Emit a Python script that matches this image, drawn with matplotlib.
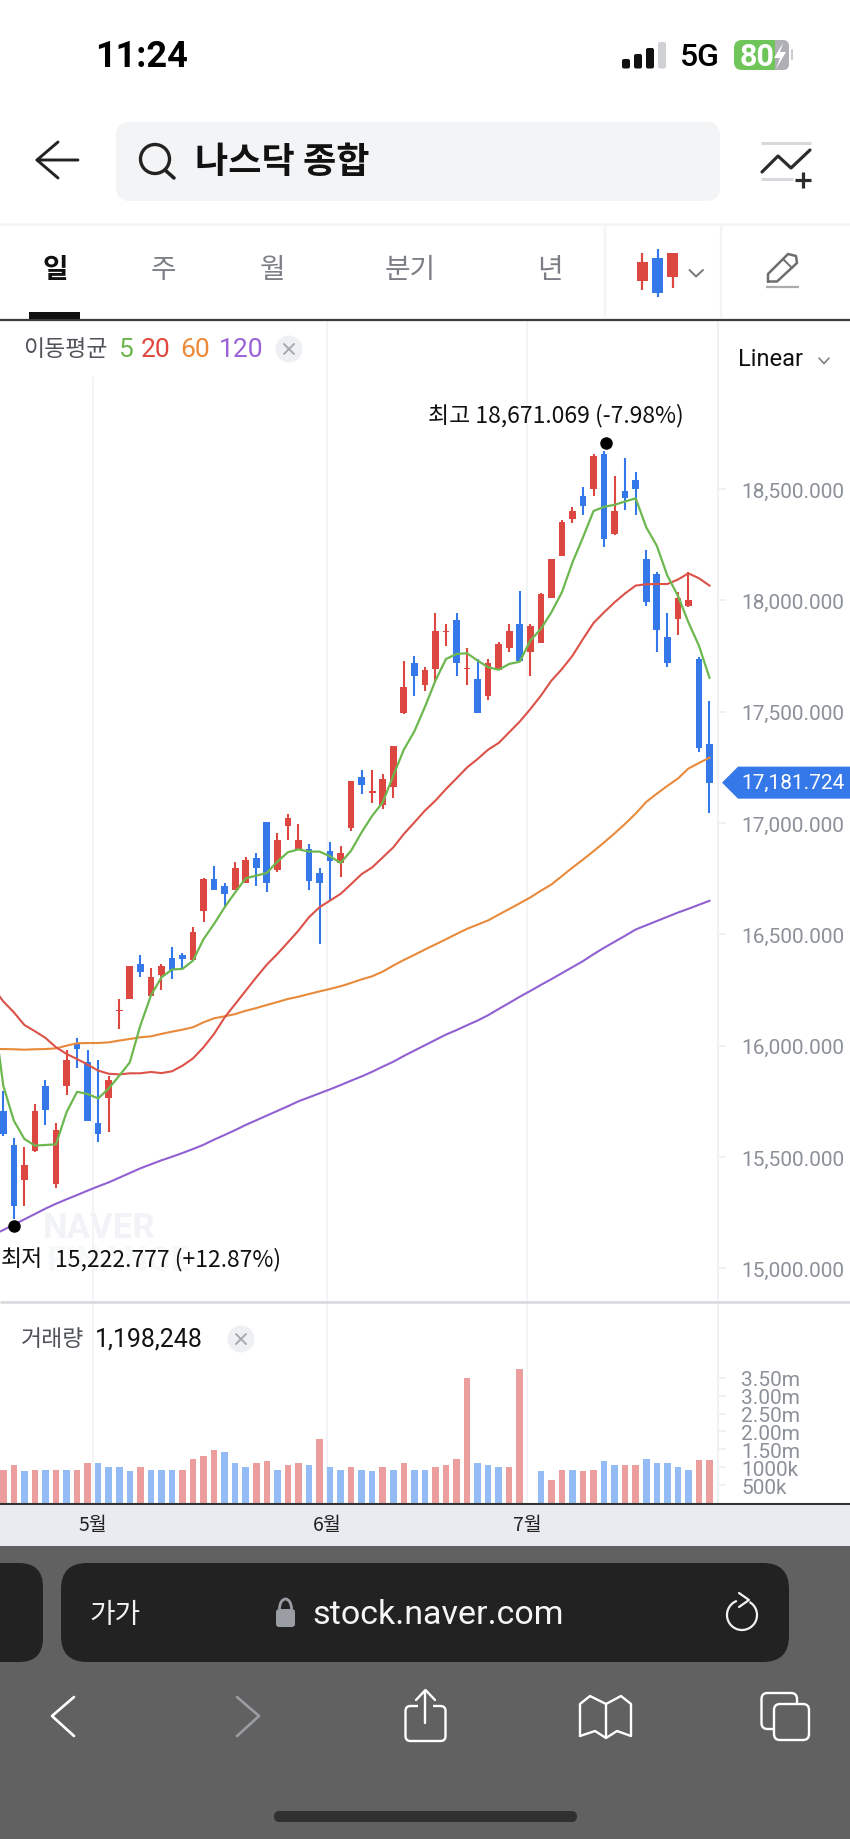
import matplotlib
matplotlib.use("Agg")
import matplotlib.pyplot as plt
from matplotlib.patches import FancyBboxPatch, Polygon, Circle, Rectangle, Arc
from matplotlib.transforms import ScaledTranslation

KR = ['Noto Sans CJK KR', 'DejaVu Sans']
LAT = ['Roboto', 'DejaVu Sans']
plt.rcParams['font.family'] = KR

# ---------- data ----------
opens = [15708,15554,15398,15525,15817,15379,15820,16011,15925,15651,15764,16154,16210,16367,16222,16318,16394,16407,16387,16604,
         16749,16719,16701,16731,16845,17003,16789,16985,16881,16884,16777,16875,16821,16976,17209,17134,17083,17161,17493,17719,
         17622,17691,17857,17914,17691,17649,17572,17689,17787,17893,17770,17809,18013,18200,18366,18471,18501,18658,18297,18490,
         18540,18186,18120,17834,17915,17975,17737,17355]
highs = [15798,15584,15543,15738,15846,15651,15982,16033,15982,15934,15865,16210,16357,16407,16348,16367,16445,16415,16532,16755,
         16806,16729,16827,16846,16866,17003,16954,17042,16994,16906,16797,16914,16896,17189,17237,17238,17219,17346,17728,17749,
         17700,17944,17894,17942,17785,17737,17737,17815,17893,18041,17893,18032,18186,18363,18421,18511,18657,18671,18558,18639,
         18579,18225,18130,17942,18040,18130,17746,17550]
lows = [15593,15223,15281,15522,15644,15359,15780,15898,15663,15566,15614,16075,16210,16310,16222,16250,16300,16348,16385,16554,
        16701,16626,16699,16729,16719,16692,16779,16926,16879,16701,16455,16656,16759,16966,17131,17092,17062,17111,17491,17572,
        17592,17640,17797,17662,17622,17495,17553,17687,17767,17725,17662,17807,18011,18198,18347,18386,18471,18239,18295,18405,
        18386,17974,17767,17700,17846,17973,17318,17044]
closes = [15603,15281,15464,15708,15713,15621,15936,15985,15663,15605,15847,16160,16357,16330,16309,16357,16342,16390,16512,16749,
          16701,16682,16797,16836,16800,16731,16924,17023,16924,16741,16731,16828,16866,17189,17171,17141,17198,17346,17610,17661,
          17688,17864,17863,17719,17697,17495,17719,17806,17864,17727,17884,18031,18186,18354,18402,18426,18648,18278,18402,18460,
          18502,17993,17866,17719,18011,18002,17336,17181.724]

# moving averages start one session before the first visible candle
ma5 = [16180,15820,15663,15581,15551,15554,15557,15701,15793,15783,15763,15808,15865,15925,16090,16225,16307,16342,16345,16382,
       16479,16547,16622,16689,16752,16764,16776,16827,16869,16882,16872,16872,16851,16821,16876,16959,17033,17093,17213,17330,
       17412,17522,17640,17737,17760,17763,17730,17700,17689,17715,17725,17820,17872,17947,18037,18171,18284,18402,18421,18430,
       18445,18459,18329,18246,18112,18022,17902,17797,17653]
ma20 = [16262,16199,16150,16093,16065,16035,15993,15963,15940,15915,15888,15874,15871,15876,15876,15882,15877,15885,15910,15943,
        15993,16053,16127,16187,16247,16307,16364,16412,16464,16517,16577,16622,16652,16682,16726,16771,16801,16846,16891,16951,
        17003,17056,17101,17153,17201,17250,17288,17330,17360,17408,17456,17512,17572,17640,17692,17752,17827,17899,17947,17992,
        18032,18067,18073,18074,18074,18094,18122,18100,18067]
ma60 = [15985,15985,15984,15982,15984,15985,15988,16000,16011,16012,16012,16015,16023,16030,16038,16042,16053,16063,16072,16083,
        16105,16123,16132,16142,16157,16169,16183,16196,16210,16220,16232,16244,16255,16267,16282,16298,16312,16333,16360,16385,
        16408,16432,16455,16478,16502,16525,16544,16563,16589,16614,16640,16666,16696,16724,16762,16800,16836,16874,16913,16954,
        16997,17043,17095,17132,17167,17200,17245,17270,17294]
ma120 = [15150,15172,15196,15220,15244,15268,15290,15310,15329,15349,15368,15386,15407,15428,15449,15467,15485,15501,15518,15536,
         15555,15578,15599,15621,15644,15665,15686,15707,15728,15750,15768,15786,15804,15823,15843,15862,15883,15906,15928,15954,
         15978,16002,16026,16050,16070,16092,16113,16137,16165,16192,16220,16246,16273,16299,16326,16353,16380,16411,16440,16467,
         16494,16522,16541,16560,16579,16598,16615,16633,16651]

volumes = [931,1052,885,931,931,931,931,931,1117,1117,996,996,885,996,931,931,931,931,1238,1304,
           1480,1425,1117,996,1117,1182,931,1052,1117,1052,1788,996,931,996,931,885,996,931,1117,931,
           931,996,1052,1238,3492,1117,1052,996,996,3743,0,885,633,931,931,885,931,1182,1052,1052,
           1052,1238,1117,1117,996,931,1198,1198]
volume_up = "RRBRBRBRRBBBBRBBBRRRRBBBRRBRRBRBBRBBRBRBBRRRRBBBRRRBRRBRRBBRRBBBBBRR"

price_ticks = [15000,15500,16000,16500,17000,17500,18000,18500]
volume_ticks = [500,1000,1500,2000,2500,3000,3500]
volume_tick_labels = ['500k','1000k','1.50m','2.00m','2.50m','3.00m','3.50m']
month_labels = ['5월','6월','7월']
month_positions = [8.5,30.7,49.7]
last_price = 17181.724

# ---------- layout ----------
W, H = 850, 1840
RED, BLUE = '#dc4841', '#3478e9'
VRED, VBLUE = '#ec9d9d', '#93bcf6'
GRID = '#f3f4f6'
AXTXT = '#8b9099'
fig = plt.figure(figsize=(W/100, H/100), dpi=100, facecolor='white')

def axes_px(x0, y0, x1, y1, **kw):
    return fig.add_axes([x0/W, 1-y1/H, (x1-x0)/W, (y1-y0)/H], **kw)

X0, STEP = 3.3, 10.54
xlim = ((0-X0)/STEP, (719-X0)/STEP)
n = len(closes)
days = list(range(n))
ma_days = list(range(-1, n))

# watermark
fig.text(43/W, 1-1229/H, 'NAVER', family=LAT, weight='bold', fontsize=25, color='#f2f3f6', va='center', zorder=0.2)
fig.text(47/W, 1-1262/H, 'FINANCE', family=LAT, weight='bold', fontsize=25, color='#f7f8f9', va='center', zorder=0.2)

# ---------- price panel ----------
ax = axes_px(0, 320, 719, 1303, facecolor='none', zorder=1)
ax.set_xlim(*xlim)
ax.set_ylim(14848.6, 19264.6)
for s in ax.spines.values():
    s.set_visible(False)
ax.set_xticks([])
ax.yaxis.tick_right()
ax.set_yticks(price_ticks)
ax.set_yticklabels([f'{v:,.3f}' for v in price_ticks], family=LAT, fontsize=15, color=AXTXT)
ax.tick_params(axis='y', length=5, width=1.2, color='#eceef0', pad=11)
for m in month_positions:
    ax.axvline(m, color=GRID, lw=1.4, zorder=0)
ax.axvline(xlim[1], color='#f0f1f3', lw=2.8, zorder=0)

colors = [RED if c >= o else BLUE for o, c in zip(opens, closes)]
ax.vlines(days, lows, highs, colors=colors, lw=1.5, zorder=2)
ax.bar(days, [max(abs(c-o), 8) for o, c in zip(opens, closes)],
       bottom=[min(o, c) for o, c in zip(opens, closes)], width=0.63, color=colors, zorder=2)
ax.plot(ma_days, ma120, color='#9160d2', lw=1.5, zorder=3)
ax.plot(ma_days, ma60, color='#e98a3b', lw=1.5, zorder=3)
ax.plot(ma_days, ma20, color='#dc5148', lw=1.5, zorder=3)
ax.plot(ma_days, ma5, color='#6cb84f', lw=1.6, zorder=4)

hi = highs.index(max(highs)); lo = lows.index(min(lows))
ax.plot([hi], [highs[hi]], 'o', ms=8, color='black', zorder=5, clip_on=False,
        transform=ax.transData + ScaledTranslation(2/100, 8/100, fig.dpi_scale_trans))
ax.plot([lo], [lows[lo]], 'o', ms=8, color='black', zorder=5, clip_on=False,
        transform=ax.transData + ScaledTranslation(0, -7/100, fig.dpi_scale_trans))

# ---------- volume panel ----------
vx = axes_px(0, 1303, 719, 1504, facecolor='none', zorder=1)
vx.set_xlim(*xlim)
vx.set_ylim(0, (1504-1303)/17.9*500)
for s in vx.spines.values():
    s.set_visible(False)
vx.set_xticks([])
vx.yaxis.tick_right()
vx.set_yticks(volume_ticks)
vx.set_yticklabels(volume_tick_labels, family=LAT, fontsize=15, color=AXTXT)
vx.tick_params(axis='y', length=5, width=1.2, color='#eceef0', pad=11)
for m in month_positions:
    vx.axvline(m, color=GRID, lw=1.4, zorder=0)
vx.axvline(xlim[1], color='#f0f1f3', lw=2.8, zorder=0)
vx.bar(days, volumes, width=0.62, color=[VRED if d == 'R' else VBLUE for d in volume_up], zorder=2)

# ---------- page furniture in pixel coordinates ----------
ui = axes_px(0, 0, W, H, facecolor='none', zorder=5)
ui.set_xlim(0, W); ui.set_ylim(H, 0); ui.axis('off')

def rrect(x0, y0, x1, y1, r, fc, ec='none', lw=0, z=1):
    ui.add_patch(FancyBboxPatch((x0, y0), x1-x0, y1-y0, boxstyle=f'round,pad=0,rounding_size={r}',
                                fc=fc, ec=ec, lw=lw, zorder=z))
def line(xs, ys, c, lw, z=3, cap='round'):
    ui.plot(xs, ys, color=c, lw=lw, solid_capstyle=cap, solid_joinstyle='round', zorder=z)
def T(x, y, s, size, c='black', ha='left', fam=KR, w='normal', z=4):
    ui.text(x, y, s, fontsize=size, color=c, ha=ha, va='center', family=fam, weight=w, zorder=z)

# status bar
T(95, 57, '11:24', 26, w='bold', fam=LAT)
for x0, top, c in [(622, 60, '#111'), (634, 55, '#111'), (646, 49, '#111'), (658, 43, '#cfd1d4')]:
    rrect(x0, top, x0+8, 69.5, 2, c)
T(680, 57, '5G', 23, fam=LAT, w='medium')
rrect(734, 41, 789, 71, 8, '#6fc45a')
rrect(775, 41, 789, 71, 6, '#aeb0b5')
ui.add_patch(Rectangle((775, 41), 7, 30, fc='#aeb0b5', ec='none', zorder=1.5))
T(740, 57, '80', 22, c='white', w='bold', fam=LAT)
ui.add_patch(Polygon([(783, 44), (774, 59), (780, 59), (776, 70), (786, 53), (780, 53)], fc='white', ec='none', zorder=5))
rrect(791, 50, 793, 61, 1, '#c9cbce')

# search row
line([78, 37, 58], [161, 161, 143], '#222', 2.1)
line([37, 58], [161, 179], '#222', 2.1)
rrect(116, 123, 720, 202, 14, '#f3f4f6')
ui.add_patch(Circle((155, 160), 14.5, fc='none', ec='#222', lw=2.4, zorder=3))
line([165, 174], [171, 179], '#222', 2.6)
T(195, 162, '나스닥 종합', 26, c='#111', w='bold')
line([761, 811], [144, 144], '#d8d9dc', 2.2, cap='butt')
line([761, 793], [180, 180], '#d8d9dc', 2.2, cap='butt')
line([762, 778, 791, 810], [173, 157, 169, 151], '#2c2c2c', 2.3)
line([795, 811], [181, 181], '#2c2c2c', 2.3, cap='butt')
line([803, 803], [173, 189], '#2c2c2c', 2.3, cap='butt')

# tabs
line([0, W], [225, 225], '#f3f4f6', 1.8, cap='butt')
for vx_ in (605, 721):
    line([vx_, vx_], [225, 319], '#f3f4f6', 1.6, cap='butt')
T(55, 270, '일', 20, c='#111', ha='center', w='bold')
T(163, 270, '주', 20, c='#7b7e84', ha='center')
T(272, 270, '월', 20, c='#7b7e84', ha='center')
T(410, 270, '분기', 20, c='#7b7e84', ha='center')
T(550, 270, '년', 20, c='#7b7e84', ha='center')
ui.add_patch(Rectangle((29, 313), 51, 7, fc='#111', ec='none', zorder=3))
line([0, W], [320.5, 320.5], '#3b3b3b', 1.6, cap='butt')
# candle glyph
for xc, x0, x1, t, b, wt, wb, c in [(642.5, 637, 648, 263, 282, 254, 291, RED), (658, 652.5, 663.5, 259, 294, 250, 298, BLUE),
                                    (673, 667.5, 678.5, 254, 278, 254, 289, RED)]:
    line([xc, xc], [wt, wb], c, 1.6, cap='butt')
    ui.add_patch(Rectangle((x0, t), x1-x0, b-t, fc=c, ec='none', zorder=4))
line([689.5, 696, 703], [271, 277.5, 271], '#777', 1.4)
# pencil
line([768, 768, 788, 796, 797, 777, 768], [282.5, 275, 255, 257, 264, 282.5, 282.5], '#6e6e6e', 1.8)
line([783, 792], [260, 269], '#6e6e6e', 1.4)
line([766, 799], [288, 288], '#a9abae', 1.6, cap='butt')

# legend
ui.add_patch(Rectangle((0, 322), 318, 56, fc='white', ec='none', zorder=1))
T(23, 350, '이동평균', 16.5, c='#50545a')
T(118, 350, '5', 19, c='#6db64f', fam=LAT)
T(141, 350, '20', 19, c='#e0483e', fam=LAT)
T(180, 350, '60', 19, c='#ee8a37', fam=LAT)
T(219, 350, '120', 19, c='#9a62d6', fam=LAT)
ui.add_patch(Circle((289, 350), 13.5, fc='#eef0f3', ec='none', zorder=2))
line([284, 294], [345, 355], '#a5a9af', 1.4); line([284, 294], [355, 345], '#a5a9af', 1.4)
T(738, 360, 'Linear', 17, c='#111', fam=LAT)
line([819, 824, 829], [359, 364.5, 359], '#777', 1.1)

# extreme labels
T(428, 416, '최고 18,671.069 (-7.98%)', 16.5, c='#111')
T(1, 1260, '최저', 16.5, c='#111')
T(55, 1260, '15,222.777 (+12.87%)', 16.5, c='#111')

# last-price tag, placed through the price scale
tag_y = ax.transData.transform((0, last_price))[1]
tag_y = H - tag_y
ui.add_patch(Polygon([(722, tag_y), (738, tag_y-16), (850, tag_y-16), (850, tag_y+16), (738, tag_y+16)], fc=BLUE, ec='none', zorder=3))
T(741, tag_y, f'{last_price:,.3f}', 15, c='white', fam=LAT)

# separators, volume title, time band
line([0, W], [1303, 1303], '#d6d8dc', 1.8, cap='butt')
T(21, 1340, '거래량', 16.5, c='#50545a')
T(95, 1340, '1,198,248', 18, c='#111', fam=LAT)
ui.add_patch(Circle((241, 1340), 13.5, fc='#eef0f3', ec='none', zorder=2))
line([236, 246], [1335, 1345], '#a5a9af', 1.4); line([236, 246], [1345, 1335], '#a5a9af', 1.4)
ui.add_patch(Rectangle((0, 1505), W, 42, fc='#e9ebf0', ec='none', zorder=1))
line([0, W], [1504.5, 1504.5], '#333', 1.5, cap='butt')
for lab, m in zip(month_labels, month_positions):
    T(X0 + STEP*m, 1526, lab, 14, c='#222', ha='center')

# browser chrome
ui.add_patch(Rectangle((0, 1547), W, H-1547, fc='#616161', ec='none', zorder=1))
rrect(-40, 1564, 43, 1663, 24, '#222222', z=2)
rrect(61, 1564, 789, 1663, 26, '#222222', z=2)
T(89, 1615, '가가', 20, c='#f2f2f2')
rrect(276, 1610, 295, 1628, 3, '#9a9da3', z=3)
ui.add_patch(Arc((285.5, 1610), 12, 20, theta1=180, theta2=360, ec='#9a9da3', lw=2, zorder=3))
T(312, 1615, 'stock.naver.com', 24.5, c='#f5f5f5', fam=LAT)
ui.add_patch(Arc((742, 1616), 30, 30, theta1=-60+0, theta2=250, ec='#f2f2f2', lw=1.6, zorder=3))
line([739, 749, 739], [1594, 1601, 1608], '#f2f2f2', 1.6)
line([74, 52, 74], [1698, 1717, 1737], 'white', 1.9)
line([237, 259, 237], [1698, 1717, 1737], '#9a9da3', 1.9)
rrect(405.5, 1707, 445.5, 1742, 5, 'none', ec='white', lw=1.7, z=3)
ui.add_patch(Rectangle((418, 1700), 15, 12, fc='#616161', ec='none', zorder=3.2))
line([425.5, 425.5], [1692, 1724], 'white', 1.7, z=4)
line([416, 425.5, 435], [1701, 1691, 1701], 'white', 1.7, z=4)
line([580, 580, 590, 606, 606], [1737, 1705, 1697, 1705, 1739], 'white', 1.7)
line([631, 631, 621, 606], [1737, 1705, 1697, 1705], 'white', 1.7)
line([580, 595, 606, 617, 631], [1737, 1732, 1739, 1732, 1737], 'white', 1.7)
rrect(761.5, 1694, 797, 1730, 6, 'none', ec='white', lw=1.7, z=3)
rrect(774, 1705, 809, 1741, 6, '#616161', ec='white', lw=1.7, z=3.5)
rrect(274, 1812, 577, 1823, 5.5, '#303030', z=2)

fig.savefig('out.png', dpi=100)
